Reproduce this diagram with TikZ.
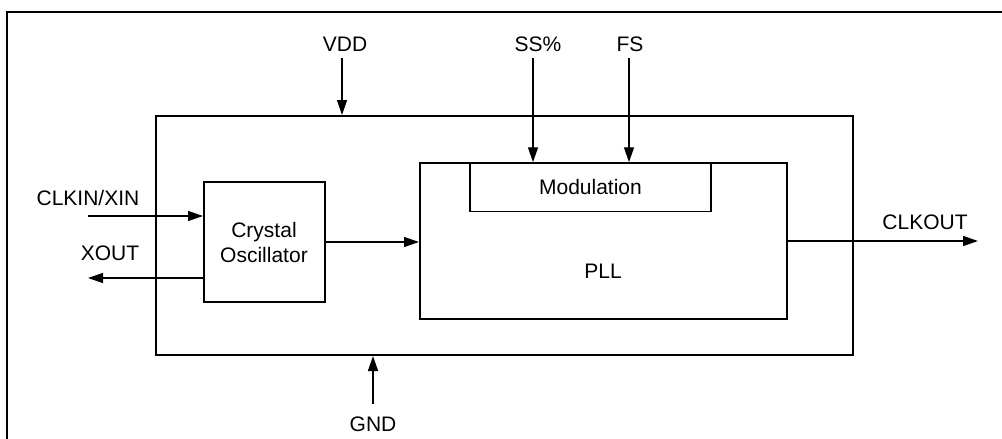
\documentclass[tikz,border=0pt]{standalone}
\usepackage{fontspec}
\setmainfont{Liberation Sans}
\usetikzlibrary{arrows.meta}
\begin{document}
\begin{tikzpicture}[x=1pt,y=-1pt,
  box/.style={draw, line width=2pt, rectangle, inner sep=0pt},
  modbox/.style={draw, line width=1.5pt, rectangle, inner sep=0pt},
  lbl/.style={font=\fontsize{21}{25}\selectfont, inner sep=0pt, anchor=base},
  arr/.style={line width=1.4pt, -{Triangle[length=15pt,width=10pt]}},
]
\useasboundingbox (0,0) rectangle (1002,439);
% outer frame
\draw[line width=2pt] (6.5,450) -- (6.5,11.5) -- (1012,11.5);
% blocks
\node[box, minimum width=697pt, minimum height=239pt] (chip) at (504.5,235.5) {};
\node[box, minimum width=121pt, minimum height=120pt, align=center,
      font=\fontsize{21}{25}\selectfont] (xtal) at (264.5,242) {};
\node[lbl] (xtaltxt1) at (264,237) {Crystal};
\node[lbl] (xtaltxt2) at (264,262) {Oscillator};
\node[box, minimum width=367pt, minimum height=156pt] (pll) at (603.5,241) {};
\node[lbl] (plltxt) at (603,278) {PLL};
\node[modbox, minimum width=241pt, minimum height=48.5pt,
      font=\fontsize{21}{25}\selectfont] (mod) at (590.5,187.25) {Modulation};
% labels
\node[lbl] (vdd) at (345,51.5) {VDD};
\node[lbl] (ss) at (538,51.5) {SS\%};
\node[lbl] (fs) at (630,51.5) {FS};
\node[lbl] (clkin) at (88,205) {CLKIN/XIN};
\node[lbl] (xout) at (110,260.5) {XOUT};
\node[lbl] (clkout) at (925,229) {CLKOUT};
\node[lbl] (gnd) at (373,431) {GND};
% connector ends
\coordinate (vdd_s) at (342,58);
\coordinate (ss_s) at (533,58);
\coordinate (fs_s) at (629,58);
\coordinate (clkin_s) at (88,216);
\coordinate (xout_e) at (88,278);
\coordinate (clkout_e) at (978,241);
\coordinate (gnd_s) at (373,404);
% connectors
\draw[arr] (vdd_s) -- (vdd_s |- chip.north);
\draw[arr] (ss_s) -- (ss_s |- mod.north);
\draw[arr] (fs_s) -- (fs_s |- mod.north);
\draw[arr] (clkin_s) -- (clkin_s -| xtal.west);
\draw[arr] (xout_e -| xtal.west) -- (xout_e);
\draw[arr] (xtal.east) -- (xtal.east -| pll.west);
\draw[arr] (pll.east) -- (clkout_e);
\draw[arr] (gnd_s) -- (gnd_s |- chip.south);
\end{tikzpicture}
\end{document}
